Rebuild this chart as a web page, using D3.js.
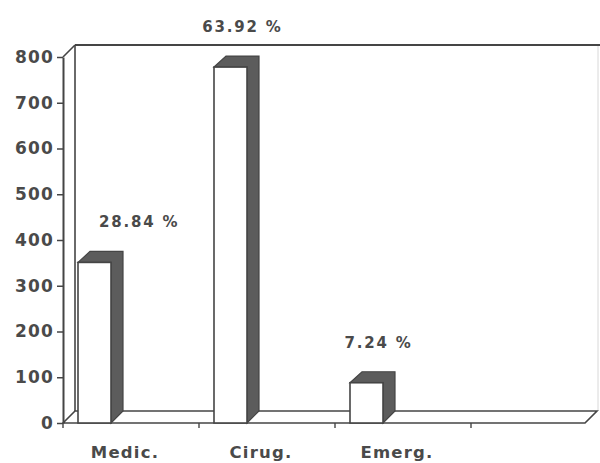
<!DOCTYPE html>
<html>
<head>
<meta charset="utf-8">
<script src="https://cdn.jsdelivr.net/npm/d3@7"></script>
<style>
  body { margin: 0; background: #fff; }
  text { font-family: "DejaVu Sans", sans-serif; font-weight: bold; fill: #4a4a4a; }
</style>
</head>
<body>
<div id="chart"></div>
<script>
(function () {

  // data
  var categories = ["Medic.", "Cirug.", "Emerg."];
  var counts = [351, 778, 88];
  var percents = ["28.84 %", "63.92 %", "7.24 %"];
  var yTicks = [0, 100, 200, 300, 400, 500, 600, 700, 800];

  var width = 600, height = 463;
  var depth = 12;          // 3d offset
  var line = "#454545";

  var svg = d3.select("#chart")
    .append("svg")
    .attr("width", width)
    .attr("height", height);

  // scales
  var yScale = d3.scaleLinear()
    .domain([0, 800])
    .range([423, 57]);

  var xScale = d3.scaleBand()
    .domain(categories)
    .range([63, 63 + 136 * categories.length]);

  var x0 = 63, xEnd = 585;
  var yBase = yScale(0), yTop = yScale(800);

  // back wall + floor
  var frame = svg.append("g")
    .attr("fill", "none")
    .attr("stroke", line)
    .attr("stroke-width", 1.6);

  frame.append("line") // faint right edge
    .attr("x1", 598).attr("x2", 598)
    .attr("y1", yTop - depth).attr("y2", yBase - depth)
    .attr("stroke", "#d8d8d8").attr("stroke-width", 1);

  frame.append("line")
    .attr("x1", x0 + depth).attr("x2", width)
    .attr("y1", yTop - depth).attr("y2", yTop - depth)
    .attr("stroke-width", 2.2);

  frame.append("line")
    .attr("x1", x0 + depth).attr("x2", x0 + depth)
    .attr("y1", yTop - depth).attr("y2", yBase - depth);

  frame.append("line")
    .attr("x1", x0).attr("x2", x0 + depth)
    .attr("y1", yTop).attr("y2", yTop - depth);

  frame.append("path")
    .attr("d", "M" + x0 + "," + yBase +
      "L" + (x0 + depth) + "," + (yBase - depth) +
      "L" + (xEnd + depth) + "," + (yBase - depth) +
      "L" + xEnd + "," + yBase + "Z")
    .attr("fill", "#fff");

  // x ticks under floor
  var xTickPos = categories.map(function (c) { return xScale(c) })
    .concat([xScale.range()[1]]);
  svg.selectAll(".xtick")
    .data(xTickPos)
    .enter().append("line")
    .attr("class", "xtick")
    .attr("x1", function (d) { return d }).attr("x2", function (d) { return d })
    .attr("y1", yBase).attr("y2", yBase + 5)
    .attr("stroke", line)
    .attr("stroke-width", 1.4);

  // bars
  var barOff = 15, barW = 33;
  var bars = svg.selectAll(".bar")
    .data(counts)
    .enter().append("g")
    .attr("class", "bar");

  bars.append("path") // top + side
    .attr("d", function (d, i) {
      var x = xScale(categories[i]) + barOff, y = yScale(d);
      return "M" + x + "," + y +
        "L" + (x + depth) + "," + (y - depth + 1) +
        "L" + (x + barW + depth) + "," + (y - depth + 1) +
        "L" + (x + barW + depth) + "," + (yBase - depth) +
        "L" + (x + barW) + "," + yBase +
        "L" + (x + barW) + "," + y + "Z";
    })
    .attr("fill", "#5c5c5c")
    .attr("stroke", line)
    .attr("stroke-width", 1.2);

  bars.append("rect")
    .attr("x", function (d, i) { return xScale(categories[i]) + barOff })
    .attr("y", function (d) { return yScale(d) })
    .attr("width", barW)
    .attr("height", function (d) { return yBase - yScale(d) })
    .attr("fill", "#fff")
    .attr("stroke", line)
    .attr("stroke-width", 1.6);

  // percent labels
  svg.selectAll(".pct")
    .data(percents)
    .enter().append("text")
    .attr("class", "pct")
    .attr("font-size", 15)
    .attr("letter-spacing", 1.8)
    .attr("text-anchor", "middle")
    .attr("y", function (d, i) { return yScale(counts[i]) - depth - 23 })
    .text(function (d) { return d })
    .attr("x", function (d, i) {
      var cx = xScale(categories[i]) + barOff + barW / 2 + 12;
      var w = this.getComputedTextLength();
      return Math.max(cx, x0 + depth + 24 + w / 2);
    });

  // y axis
  var yAxis = d3.axisLeft(yScale)
    .tickValues(yTicks)
    .tickSize(6)
    .tickSizeOuter(0)
    .tickPadding(3);

  var gy = svg.append("g")
    .attr("class", "axis y-axis")
    .attr("transform", "translate(" + x0 + ",0)")
    .call(yAxis);

  gy.select(".domain").attr("stroke", line).attr("stroke-width", 2);
  gy.selectAll(".tick line").attr("stroke", line).attr("stroke-width", 1.5);
  gy.selectAll(".tick text")
    .attr("font-size", 17)
    .attr("letter-spacing", 1.2)
    .attr("fill", "#4a4a4a")
    .style("font-family", "DejaVu Sans, sans-serif")
    .style("font-weight", "bold");

  // category labels
  svg.selectAll(".cat")
    .data(categories)
    .enter().append("text")
    .attr("class", "cat")
    .attr("font-size", 16.5)
    .attr("letter-spacing", 1.2)
    .attr("text-anchor", "middle")
    .attr("x", function (d) { return xScale(d) + xScale.bandwidth() / 2 - 6 })
    .attr("y", 458)
    .text(function (d) { return d });

})()
</script>
</body>
</html>
